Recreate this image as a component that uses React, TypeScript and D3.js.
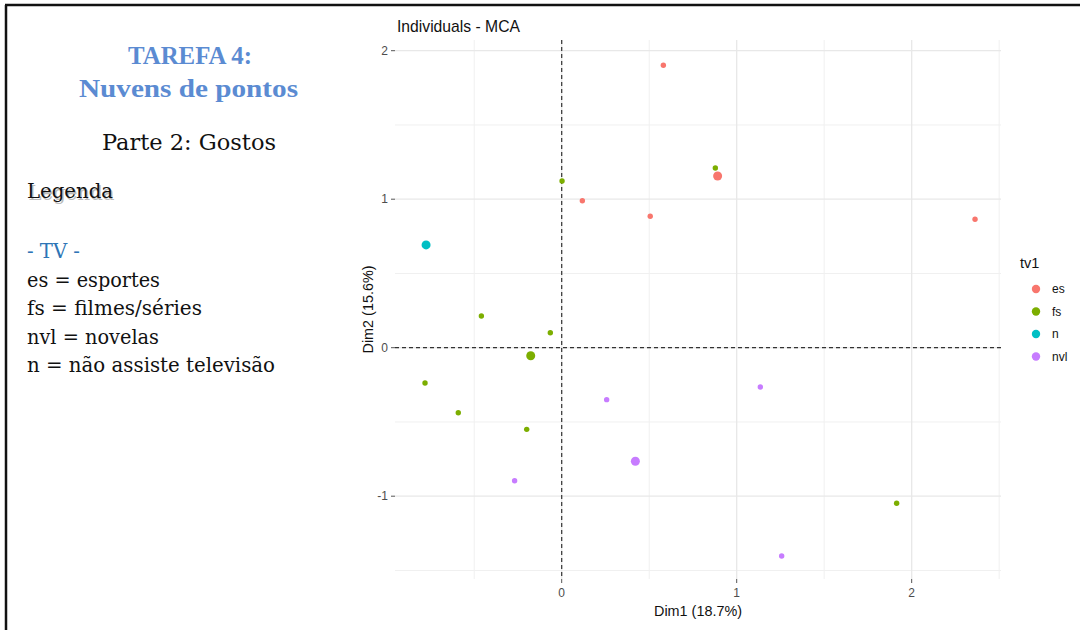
import React from "react";
import * as d3 from "d3";

// ---- data ----
const groups = ["es", "fs", "n", "nvl"];
const groupColors = ["#F8766D", "#7CAE00", "#00BFC4", "#C77CFF"];

const indGroup = ["es", "es", "es", "es", "fs", "fs", "fs", "fs", "fs", "fs", "fs", "fs", "n", "nvl", "nvl", "nvl", "nvl"];
const indDim1 = [0.581, 0.118, 0.506, 2.362, 0.878, 0.002, -0.459, -0.065, -0.781, -0.591, -0.2, 1.914, -0.775, 0.257, -0.269, 1.135, 1.257];
const indDim2 = [1.902, 0.99, 0.885, 0.865, 1.21, 1.123, 0.213, 0.101, -0.238, -0.438, -0.55, -1.048, 0.692, -0.35, -0.896, -0.265, -1.403];

const meanGroup = ["es", "fs", "n", "nvl"];
const meanDim1 = [0.891, -0.177, -0.775, 0.421];
const meanDim2 = [1.156, -0.054, 0.692, -0.765];

const xMajor = [0, 1, 2];
const xMinor = [-0.5, 0.5, 1.5, 2.5];
const yMajor = [-1, 0, 1, 2];
const yMinor = [-1.5, -0.5, 0.5, 1.5];

const legendLines = ["es = esportes", "fs = filmes/séries", "nvl = novelas", "n = não assiste televisão"];
const legendLineWidths = [133, 175, 132, 248];

export default function App() {
  const W = 1080, H = 630;
  const left = 395, right = 1001, top = 40, bottom = 579;
  const x = d3.scaleLinear().domain([-0.9526, 2.5104]).range([left, right]);
  const y = d3.scaleLinear().domain([-1.5576, 2.072]).range([bottom, top]);
  const color = d3.scaleOrdinal<string, string>().domain(groups).range(groupColors);

  const sans = "'Liberation Sans', Arial, sans-serif";
  const serif = "'DejaVu Serif', 'Liberation Serif', serif";
  const serifB = "'Liberation Serif', 'DejaVu Serif', serif";
  const blue = "#5B8BD2";

  return (
    <svg width={W} height={H} style={{ position: "absolute", left: 0, top: 0, background: "#fff" }}>
      <rect x={0} y={0} width={W} height={H} fill="#fff" />
      {/* frame */}
      <line x1={5} y1={5} x2={W} y2={5} stroke="#111" strokeWidth={2.5} />
      <line x1={6} y1={5} x2={6} y2={H} stroke="#111" strokeWidth={2.5} />

      {/* left text */}
      <g>
        <text x={190} y={64} textAnchor="middle" fontFamily={serifB} fontWeight="bold" fontSize={26} fill={blue} textLength={124} lengthAdjust="spacingAndGlyphs">TAREFA 4:</text>
        <text x={188.5} y={97} textAnchor="middle" fontFamily={serifB} fontWeight="bold" fontSize={26} fill={blue} textLength={219} lengthAdjust="spacingAndGlyphs">Nuvens de pontos</text>
        <text x={189} y={150} textAnchor="middle" fontFamily={serif} fontSize={22} fill="#111" textLength={174} lengthAdjust="spacingAndGlyphs">Parte 2: Gostos</text>
        <text x={28.5} y={199.5} fontFamily={serif} fontSize={21} fill="#bbb" textLength={86} lengthAdjust="spacingAndGlyphs">Legenda</text>
        <text x={27} y={198} fontFamily={serif} fontSize={21} fill="#111" textLength={86} lengthAdjust="spacingAndGlyphs">Legenda</text>
        <text x={27} y={258} fontFamily={serif} fontSize={20} fill="#2E75B6" textLength={53} lengthAdjust="spacingAndGlyphs">- TV -</text>
        {legendLines.map((t, i) => (
          <text key={t} x={27} y={287 + i * 28.3} fontFamily={serif} fontSize={20} fill="#111" textLength={legendLineWidths[i]} lengthAdjust="spacingAndGlyphs">{t}</text>
        ))}
      </g>

      {/* plot */}
      <g fontFamily={sans}>
        <text x={397} y={32} fontSize={15.7} fill="#111">Individuals - MCA</text>
        {/* grid */}
        {yMinor.map((v) => (
          <line key={"ym" + v} x1={left} x2={right} y1={y(v)} y2={y(v)} stroke="#f0f0f0" strokeWidth={1} />
        ))}
        {xMinor.map((v) => (
          <line key={"xm" + v} y1={top} y2={bottom} x1={x(v)} x2={x(v)} stroke="#f0f0f0" strokeWidth={1} />
        ))}
        {yMajor.map((v) => (
          <line key={"yM" + v} x1={left} x2={right} y1={y(v)} y2={y(v)} stroke="#e8e8e8" strokeWidth={1.3} />
        ))}
        {xMajor.map((v) => (
          <line key={"xM" + v} y1={top} y2={bottom} x1={x(v)} x2={x(v)} stroke="#e8e8e8" strokeWidth={1.3} />
        ))}
        {/* reference lines */}
        <line x1={left} x2={right} y1={y(0)} y2={y(0)} stroke="#333" strokeWidth={1.2} strokeDasharray="4,3" />
        <line x1={x(0)} x2={x(0)} y1={top} y2={bottom} stroke="#333" strokeWidth={1.2} strokeDasharray="4,3" />

        {/* axes ticks */}
        {yMajor.map((v) => (
          <g key={"yt" + v}>
            <line x1={left - 4} x2={left} y1={y(v)} y2={y(v)} stroke="#555" strokeWidth={1} />
            <text x={left - 7} y={y(v) + 4.2} textAnchor="end" fontSize={12} fill="#4d4d4d">{v}</text>
          </g>
        ))}
        {xMajor.map((v) => (
          <g key={"xt" + v}>
            <line x1={x(v)} x2={x(v)} y1={bottom} y2={bottom + 4} stroke="#555" strokeWidth={1} />
            <text x={x(v)} y={bottom + 18} textAnchor="middle" fontSize={12} fill="#4d4d4d">{v}</text>
          </g>
        ))}
        <text x={(left + right) / 2} y={616} textAnchor="middle" fontSize={14.4} fill="#111">Dim1 (18.7%)</text>
        <text transform={`translate(373, ${(top + bottom) / 2}) rotate(-90)`} textAnchor="middle" fontSize={14.4} fill="#111">Dim2 (15.6%)</text>

        {/* points */}
        {indDim1.map((d, i) => (
          <circle key={"p" + i} cx={x(d)} cy={y(indDim2[i])} r={2.7} fill={color(indGroup[i])} />
        ))}
        {meanDim1.map((d, i) => (
          <circle key={"m" + i} cx={x(d)} cy={y(meanDim2[i])} r={4.5} fill={color(meanGroup[i])} />
        ))}

        {/* legend */}
        <text x={1020} y={268} fontSize={14.5} fill="#111">tv1</text>
        {groups.map((g, i) => (
          <g key={"lg" + g}>
            <circle cx={1036} cy={289 + i * 22.5} r={4.2} fill={color(g)} />
            <text x={1052} y={289 + i * 22.5 + 4.3} fontSize={12} fill="#111">{g}</text>
          </g>
        ))}
      </g>
    </svg>
  );
}
